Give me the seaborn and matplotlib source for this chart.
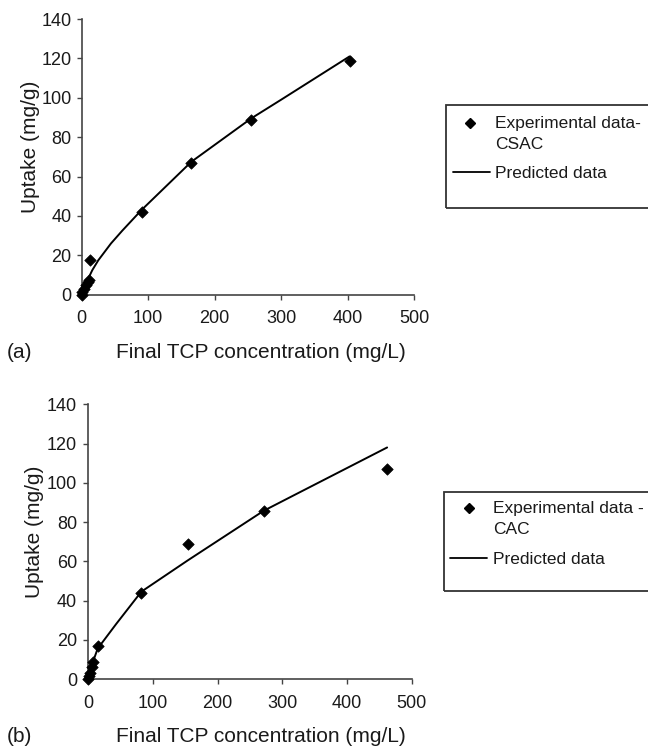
import matplotlib
matplotlib.use("Agg")
import matplotlib.pyplot as plt
from matplotlib.lines import Line2D
from matplotlib.patches import Rectangle
import seaborn as sns
import pandas as pd

# (a) CSAC isotherm: experimental points and model prediction
exp_conc_a = [0, 1, 3, 6, 9, 11, 13, 90, 165, 255, 403]
exp_uptake_a = [0, 1.5, 3, 5, 6.5, 7.5, 17.5, 41.8, 67, 88.7, 118.8]
pred_conc_a = [0, 1, 3, 6, 11, 16, 25, 44, 61, 90, 165, 255, 300, 403]
pred_uptake_a = [0, 1.5, 3.5, 6, 9, 12.5, 17.5, 26, 32.5, 43, 67.5, 89.5, 99, 121]

# (b) CAC isotherm: experimental points and model prediction
exp_conc_b = [0, 1, 3, 5.5, 8, 14.5, 82, 154, 271, 462]
exp_uptake_b = [0, 1.5, 3, 6, 8.5, 17, 43.7, 68.8, 85.7, 107.1]
pred_conc_b = [0, 1, 3, 5.5, 8, 14.5, 43, 82, 154, 271, 320, 462]
pred_uptake_b = [0, 1.5, 3.5, 6.5, 9.5, 15.5, 28, 44.5, 60.5, 85.7, 94, 118]

x_ticks = [0, 100, 200, 300, 400, 500]
y_ticks = [0, 20, 40, 60, 80, 100, 120, 140]
x_label = "Final TCP concentration (mg/L)"
y_label = "Uptake (mg/g)"
exp_names = [["Experimental data-", "CSAC"], ["Experimental data -", "CAC"]]
pred_name = "Predicted data"
panel_tags = ["(a)", "(b)"]

sns.set_theme(style="white")
plt.rcParams["font.family"] = ["Liberation Sans", "DejaVu Sans"]

W, H = 648, 747
TXT = "#1a1a1a"
AXC = "#444444"
fig = plt.figure(figsize=(W / 100, H / 100), dpi=100)


def fx(px):
    return px / W


def fy(py):
    return (H - py) / H


layout = [
    dict(rect=(81.7, 19, 414, 294.7), ylab=(30, 147), ypad=3.6,
         xlab_y=353, box=(446, 105.5, 207.7), mark=(470, 122.5),
         exp_x=495, exp_y=(121.7, 143.3), line=(453, 490, 171.5),
         pred_text=(495, 171.5)),
    dict(rect=(88.3, 404.3, 411.7, 679), ylab=(34, 532), ypad=4.6,
         xlab_y=737, box=(444, 491.7, 590.7), mark=(469.3, 508),
         exp_x=492.7, exp_y=(506.7, 528), line=(450, 487, 557.5),
         pred_text=(492.7, 557.5)),
]
series = [
    (exp_conc_a, exp_uptake_a, pred_conc_a, pred_uptake_a),
    (exp_conc_b, exp_uptake_b, pred_conc_b, pred_uptake_b),
]

for i, (p, (ec, eu, pc, pu)) in enumerate(zip(layout, series)):
    l, t, r, b = p["rect"]
    ax = fig.add_axes([fx(l), fy(b), fx(r) - fx(l), fy(t) - fy(b)])
    exp_df = pd.DataFrame({"conc": ec, "uptake": eu})
    pred_df = pd.DataFrame({"conc": pc, "uptake": pu})
    sns.lineplot(data=pred_df, x="conc", y="uptake", ax=ax, color="black",
                 linewidth=1.4, estimator=None, sort=False, legend=False)
    sns.scatterplot(data=exp_df, x="conc", y="uptake", ax=ax, marker="D",
                    color="black", s=34, edgecolor="black", linewidth=0.5,
                    legend=False, zorder=3)
    ax.set_xlim(0, 500)
    ax.set_ylim(0, 140)
    ax.set_xticks(x_ticks)
    ax.set_yticks(y_ticks)
    ax.set_xlabel("")
    ax.set_ylabel("")
    ax.tick_params(axis="both", which="major", direction="out", length=3.6,
                   width=1, color=AXC, labelsize=13, labelcolor=TXT,
                   bottom=True, left=True)
    ax.tick_params(axis="x", pad=7.6)
    ax.tick_params(axis="y", pad=p["ypad"])
    for side in ("top", "right"):
        ax.spines[side].set_visible(False)
    for side in ("left", "bottom"):
        ax.spines[side].set_color(AXC)
        ax.spines[side].set_linewidth(1.2)
    ax.patch.set_alpha(0)
    for coll in ax.collections:
        coll.set_clip_on(False)
    for ln in ax.lines:
        ln.set_clip_on(False)

    # axis titles and panel tag
    fig.text(fx(p["ylab"][0]), fy(p["ylab"][1]), y_label, fontsize=15,
             color=TXT, rotation=90, ha="center", va="center")
    fig.text(fx(260.5), fy(p["xlab_y"]), x_label, fontsize=15,
             color=TXT, ha="center", va="center")
    fig.text(fx(7), fy(p["xlab_y"]), panel_tags[i], fontsize=15,
             color=TXT, ha="left", va="center")

    # legend box with its two entries
    bx, btop, bbot = p["box"]
    fig.add_artist(Rectangle((fx(bx), fy(bbot)), fx(W + 20) - fx(bx),
                             fy(btop) - fy(bbot), transform=fig.transFigure,
                             fill=False, edgecolor="#333333", linewidth=1.3))
    mx, my = p["mark"]
    fig.add_artist(Line2D([fx(mx)], [fy(my)], marker="D", markersize=4.6,
                          color="black", linestyle="none",
                          transform=fig.transFigure))
    for line_text, ty in zip(exp_names[i], p["exp_y"]):
        fig.text(fx(p["exp_x"]), fy(ty), line_text, fontsize=12.5,
                 color=TXT, ha="left", va="center_baseline")
    x0, x1, ly = p["line"]
    fig.add_artist(Line2D([fx(x0), fx(x1)], [fy(ly), fy(ly)], color="black",
                          linewidth=1.3, transform=fig.transFigure))
    fig.text(fx(p["pred_text"][0]), fy(p["pred_text"][1]), pred_name,
             fontsize=12.5, color=TXT, ha="left", va="center_baseline")

fig.savefig("out.png", dpi=100)
